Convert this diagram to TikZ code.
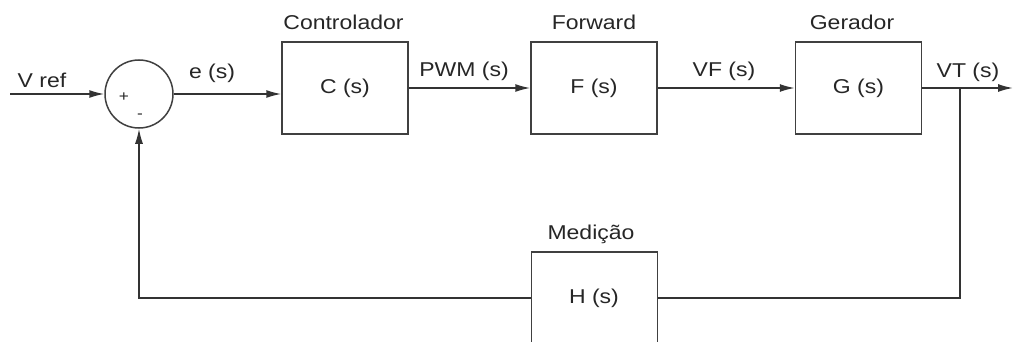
\documentclass[tikz,border=0pt]{standalone}
\usepackage{fontspec}
\setmainfont{Liberation Sans}[FakeStretch=1.15]
\usetikzlibrary{arrows.meta}
\begin{document}
\begin{tikzpicture}[x=1pt,y=-1pt,
  wire/.style={line width=1.5pt, draw=black!80},
  sig/.style={wire, -{Latex[length=15pt,width=8pt]}},
  block/.style={draw=black!75, line width=1.5pt, minimum width=126pt, minimum height=92pt, inner sep=0pt, font=\fontsize{20}{23}\selectfont, text=black!85},
  lbl/.style={inner sep=0pt, font=\fontsize{20}{23}\selectfont, text=black!85},
  sumnode/.style={circle, draw=black!75, line width=1.5pt, minimum size=68pt, inner sep=0pt}]
\useasboundingbox (0,0) rectangle (1014,342);
\clip (0,0) rectangle (1014,342);

% blocks
\node[sumnode] (sum) at (139,94) {};
\node[block] (C) at (345,88) {C (s)};
\node[block] (F) at (594,88) {F (s)};
\node[block] (G) at (858.5,88) {G (s)};
\node[block] (H) at (594.5,298) {};
\node[lbl] (Hlab) at (594,298) {H (s)};

% sign marks in the summing junction
\node[lbl, font=\fontsize{15}{16}\selectfont] (plus) at (124,97) {+};
\node[lbl, font=\fontsize{15}{16}\selectfont] (minus) at (140,116) {-};

% block titles
\node[lbl] (tC) at (343.5,22) {Controlador};
\node[lbl] (tF) at (594,22) {Forward};
\node[lbl] (tG) at (852,22) {Gerador};
\node[lbl] (tH) at (591,234) {Medição};

% signal labels
\node[lbl] (lref) at (42,80) {V ref};
\node[lbl] (le) at (212,73) {e (s)};
\node[lbl] (lpwm) at (464,71) {PWM (s)};
\node[lbl] (lvf) at (724,71) {VF (s)};
\node[lbl] (lvt) at (968,72) {VT (s)};

% forward path
\coordinate (in) at (10,94);
\coordinate (out) at (1013,88);
\coordinate (tap) at (960,88);
\draw[sig] (in) -- (sum.west);
\draw[sig] (sum.east) -- (C.west |- sum.east);
\draw[sig] (C.east) -- (F.west);
\draw[sig] (F.east) -- (G.west);
\draw[sig] (G.east) -- (out);

% feedback path
\draw[wire] (tap) |- (H.east);
\draw[sig] (H.west) -| (sum.south);
\end{tikzpicture}
\end{document}
